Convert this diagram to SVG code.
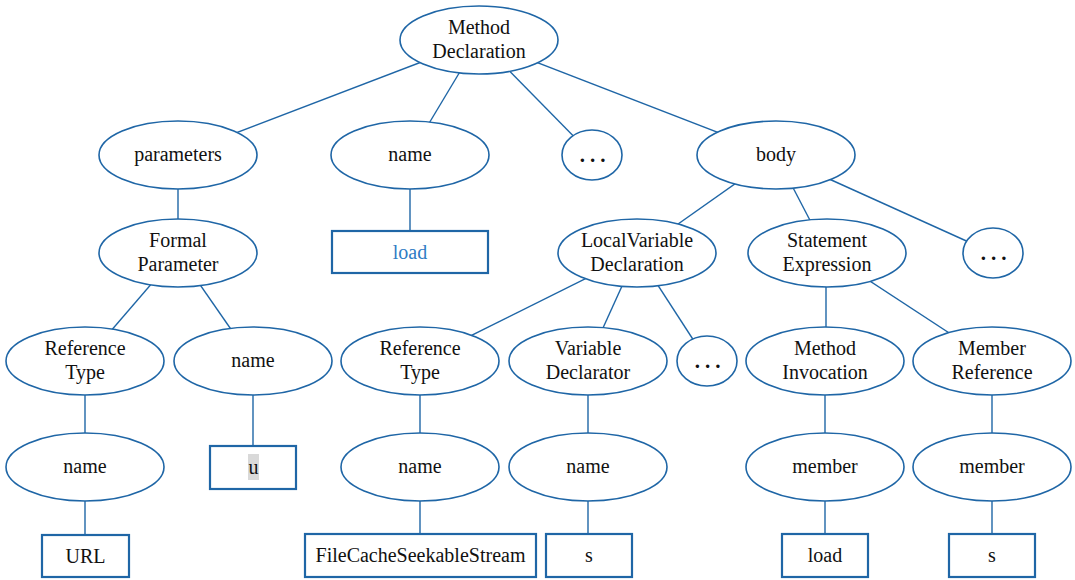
<svg xmlns="http://www.w3.org/2000/svg" width="1075" height="580" viewBox="0 0 1075 580">
<style>
.e{fill:#fff;stroke:#1f66a6;stroke-width:1.6}
.b{fill:#fff;stroke:#1f66a6;stroke-width:2.2}
.c line{stroke:#1f66a6;stroke-width:1.4}
text{font-family:"Liberation Serif","Times New Roman",serif;font-size:20px;fill:#111;text-anchor:middle}
.d{font-size:21px;letter-spacing:5px;font-weight:bold}
.blue{fill:#2e7cc4}
</style>
<rect width="1075" height="580" fill="#fff"/>
<g id="connectors" class="c">
<line x1="479" y1="40" x2="178" y2="155"/>
<line x1="479" y1="40" x2="410" y2="155"/>
<line x1="479" y1="40" x2="592" y2="155"/>
<line x1="479" y1="40" x2="776" y2="155"/>
<line x1="178" y1="155" x2="178" y2="253"/>
<line x1="410" y1="155" x2="410" y2="231"/>
<line x1="776" y1="155" x2="637" y2="253"/>
<line x1="776" y1="155" x2="827" y2="253"/>
<line x1="776" y1="155" x2="993" y2="253"/>
<line x1="178" y1="253" x2="85" y2="361"/>
<line x1="178" y1="253" x2="253" y2="361"/>
<line x1="637" y1="253" x2="420" y2="361"/>
<line x1="637" y1="253" x2="588" y2="361"/>
<line x1="637" y1="253" x2="707" y2="361"/>
<line x1="826" y1="253" x2="826" y2="361"/>
<line x1="827" y1="253" x2="992" y2="361"/>
<line x1="85" y1="361" x2="85" y2="535"/>
<line x1="253" y1="361" x2="253" y2="446"/>
<line x1="420" y1="361" x2="420" y2="534"/>
<line x1="588" y1="361" x2="588" y2="534"/>
<line x1="825" y1="361" x2="825" y2="534"/>
<line x1="992" y1="361" x2="992" y2="534"/>
</g>
<g id="method-declaration"><ellipse class="e" cx="479" cy="40" rx="79" ry="34"/><text x="479" y="34">Method</text><text x="479" y="58">Declaration</text></g>
<g id="parameters"><ellipse class="e" cx="178" cy="155" rx="79" ry="34"/><text x="178" y="161">parameters</text></g>
<g id="name-top"><ellipse class="e" cx="410" cy="155" rx="79" ry="34"/><text x="410" y="161">name</text></g>
<g id="dots-1"><ellipse class="e" cx="592" cy="155" rx="30" ry="25"/><text class="d" x="595" y="162">...</text></g>
<g id="body"><ellipse class="e" cx="776" cy="155" rx="79" ry="34"/><text x="776" y="161">body</text></g>
<g id="load-top"><rect class="b" x="332" y="231" width="156" height="42"/><text class="blue" x="410" y="259">load</text></g>
<g id="formal-parameter"><ellipse class="e" cx="178" cy="253" rx="79" ry="34"/><text x="178" y="247">Formal</text><text x="178" y="271">Parameter</text></g>
<g id="local-variable-declaration"><ellipse class="e" cx="637" cy="253" rx="79" ry="34"/><text x="637" y="247">LocalVariable</text><text x="637" y="271">Declaration</text></g>
<g id="statement-expression"><ellipse class="e" cx="827" cy="253" rx="79" ry="34"/><text x="827" y="247">Statement</text><text x="827" y="271">Expression</text></g>
<g id="dots-2"><ellipse class="e" cx="993" cy="253" rx="30" ry="25"/><text class="d" x="996" y="260">...</text></g>
<g id="reference-type-1"><ellipse class="e" cx="85" cy="361" rx="79" ry="34"/><text x="85" y="355">Reference</text><text x="85" y="379">Type</text></g>
<g id="name-u"><ellipse class="e" cx="253" cy="361" rx="79" ry="34"/><text x="253" y="367">name</text></g>
<g id="reference-type-2"><ellipse class="e" cx="420" cy="361" rx="79" ry="34"/><text x="420" y="355">Reference</text><text x="420" y="379">Type</text></g>
<g id="variable-declarator"><ellipse class="e" cx="588" cy="361" rx="79" ry="34"/><text x="588" y="355">Variable</text><text x="588" y="379">Declarator</text></g>
<g id="dots-3"><ellipse class="e" cx="707" cy="361" rx="30" ry="25"/><text class="d" x="710" y="368">...</text></g>
<g id="method-invocation"><ellipse class="e" cx="825" cy="361" rx="79" ry="34"/><text x="825" y="355">Method</text><text x="825" y="379">Invocation</text></g>
<g id="member-reference"><ellipse class="e" cx="992" cy="361" rx="79" ry="34"/><text x="992" y="355">Member</text><text x="992" y="379">Reference</text></g>
<g id="u-box"><rect class="b" x="210" y="446" width="86" height="43"/><rect x="248" y="454" width="11" height="26" fill="#d9d9d9"/><text x="253.5" y="474">u</text></g>
<g id="name-url"><ellipse class="e" cx="85" cy="467" rx="79" ry="34"/><text x="85" y="473">name</text></g>
<g id="name-fcss"><ellipse class="e" cx="420" cy="467" rx="79" ry="34"/><text x="420" y="473">name</text></g>
<g id="name-s"><ellipse class="e" cx="588" cy="467" rx="79" ry="34"/><text x="588" y="473">name</text></g>
<g id="member-load"><ellipse class="e" cx="825" cy="467" rx="79" ry="34"/><text x="825" y="473">member</text></g>
<g id="member-s"><ellipse class="e" cx="992" cy="467" rx="79" ry="34"/><text x="992" y="473">member</text></g>
<g id="url-box"><rect class="b" x="42" y="535" width="87" height="42"/><text x="85.5" y="563">URL</text></g>
<g id="fcss-box"><rect class="b" x="305" y="534" width="231" height="43"/><text x="420.5" y="562">FileCacheSeekableStream</text></g>
<g id="s-box-1"><rect class="b" x="546" y="534" width="86" height="43"/><text x="589" y="562">s</text></g>
<g id="load-box"><rect class="b" x="782" y="534" width="86" height="43"/><text x="825" y="562">load</text></g>
<g id="s-box-2"><rect class="b" x="949" y="534" width="86" height="43"/><text x="992" y="562">s</text></g>
</svg>
